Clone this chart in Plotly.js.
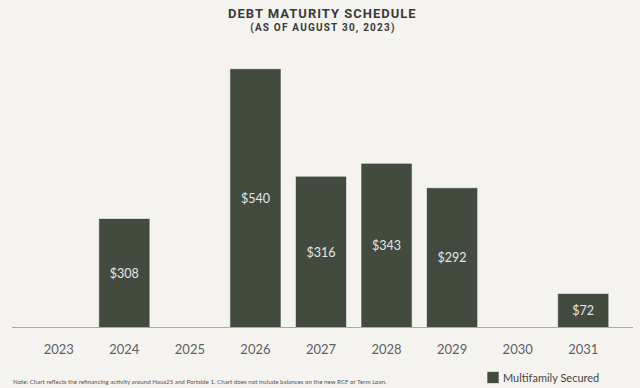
<!DOCTYPE html>
<html>
<head>
<meta charset="utf-8">
<script src="https://cdn.plot.ly/plotly-3.0.1.min.js"></script>
<style>
  html, body { margin: 0; padding: 0; background: #f4f3ef; }
  #chart { width: 640px; height: 388px; }
  .annotation-text.ttl1 { letter-spacing: 1.0px; }
  .annotation-text.ttl2 { letter-spacing: 1.2px; }
</style>
</head>
<body>
<div id="chart"></div>
<script>
// Data
var years = ['2023', '2024', '2025', '2026', '2027', '2028', '2029', '2030', '2031'];
// drawn bar heights (as drawn in the picture, $ millions)
var barHeights = [null, 228, null, 540, 316, 343, 292, null, 72];
// printed labels
var barLabels = ['', '$308', '', '$540', '$316', '$343', '$292', '', '$72'];
var seriesName = 'Multifamily Secured';
var titleText = 'DEBT MATURITY SCHEDULE';
var subtitleText = '(AS OF AUGUST 30, 2023)';
var noteText = 'Note: Chart reflects the refinancing activity around Haus25 and Portside 1. Chart does not include balances on the new RCF or Term Loan.';

var barColor = '#434b3f';
var bg = '#f4f3ef';

var trace = {
  type: 'bar',
  x: years,
  y: barHeights,
  name: seriesName,
  text: barLabels,
  textposition: 'inside',
  insidetextanchor: 'middle',
  textangle: 0,
  textfont: { family: 'Lato, sans-serif', size: 12.5, color: '#e6e6e6' },
  marker: { color: barColor, line: { color: 'rgba(255,255,255,0.6)', width: 1 } },
  hoverinfo: 'none',
  showlegend: true
};

var L = 26, R = 24, T = 60, B = 60;
var plotW = 640 - L - R, plotH = 388 - T - B;
var x0 = (12 - L) / plotW, x1 = (633 - L) / plotW;
function px2x(px) { return (px - L) / plotW; }
function py2y(py) { return (388 - B - py) / plotH; }

var layout = {
  width: 640, height: 388,
  paper_bgcolor: bg, plot_bgcolor: bg,
  margin: { l: L, r: R, t: T, b: B, pad: 0, autoexpand: false },
  bargap: 0.22,
  xaxis: {
    type: 'category',
    categoryorder: 'array', categoryarray: years,
    showgrid: false, zeroline: false, showline: false,
    ticks: 'outside', ticklen: 9, tickcolor: 'rgba(0,0,0,0)',
    tickfont: { family: 'Lato, sans-serif', size: 13, color: '#5f5f5f' },
    automargin: false,
    fixedrange: true
  },
  yaxis: {
    range: [0, 558],
    showgrid: false, zeroline: false, showline: false,
    showticklabels: false, ticks: '',
    automargin: false,
    fixedrange: true
  },
  shapes: [{
    type: 'line', xref: 'paper', yref: 'y',
    x0: x0, x1: x1, y0: 0, y1: 0,
    line: { color: '#a9a9a7', width: 2 }
  }],
  annotations: [
    { text: titleText, xref: 'paper', yref: 'paper', x: px2x(323), y: py2y(13),
      xanchor: 'center', yanchor: 'middle', showarrow: false,
      font: { family: 'Roboto, sans-serif', size: 13, weight: 'bold', color: '#3a3a3a' } },
    { text: subtitleText, xref: 'paper', yref: 'paper', x: px2x(323), y: py2y(28.5),
      xanchor: 'center', yanchor: 'middle', showarrow: false,
      font: { family: 'Roboto, sans-serif', size: 10, weight: 'bold', color: '#3a3a3a' } },
    { text: noteText, xref: 'paper', yref: 'paper', x: px2x(11), y: py2y(381),
      xanchor: 'left', yanchor: 'middle', showarrow: false,
      font: { family: 'Lato, sans-serif', size: 6.2, color: '#555555' } }
  ],
  legend: {
    orientation: 'h',
    xref: 'paper', yref: 'paper',
    x: px2x(473), y: py2y(377.5),
    xanchor: 'left', yanchor: 'middle',
    bgcolor: 'rgba(0,0,0,0)',
    font: { family: 'Lato, sans-serif', size: 11, color: '#454545' },
    itemwidth: 30
  }
};

Plotly.newPlot('chart', [trace], layout, { displayModeBar: false, staticPlot: true }).then(function () {
  var anns = document.querySelectorAll('.annotation-text');
  if (anns[0]) anns[0].classList.add('ttl1');
  if (anns[1]) anns[1].classList.add('ttl2');
  var lt = document.querySelectorAll('.legendtext');
  lt.forEach(function (t) {
    var x = parseFloat(t.getAttribute('x') || '0');
    t.setAttribute('x', x - 10);
  });
});
</script>
</body>
</html>
